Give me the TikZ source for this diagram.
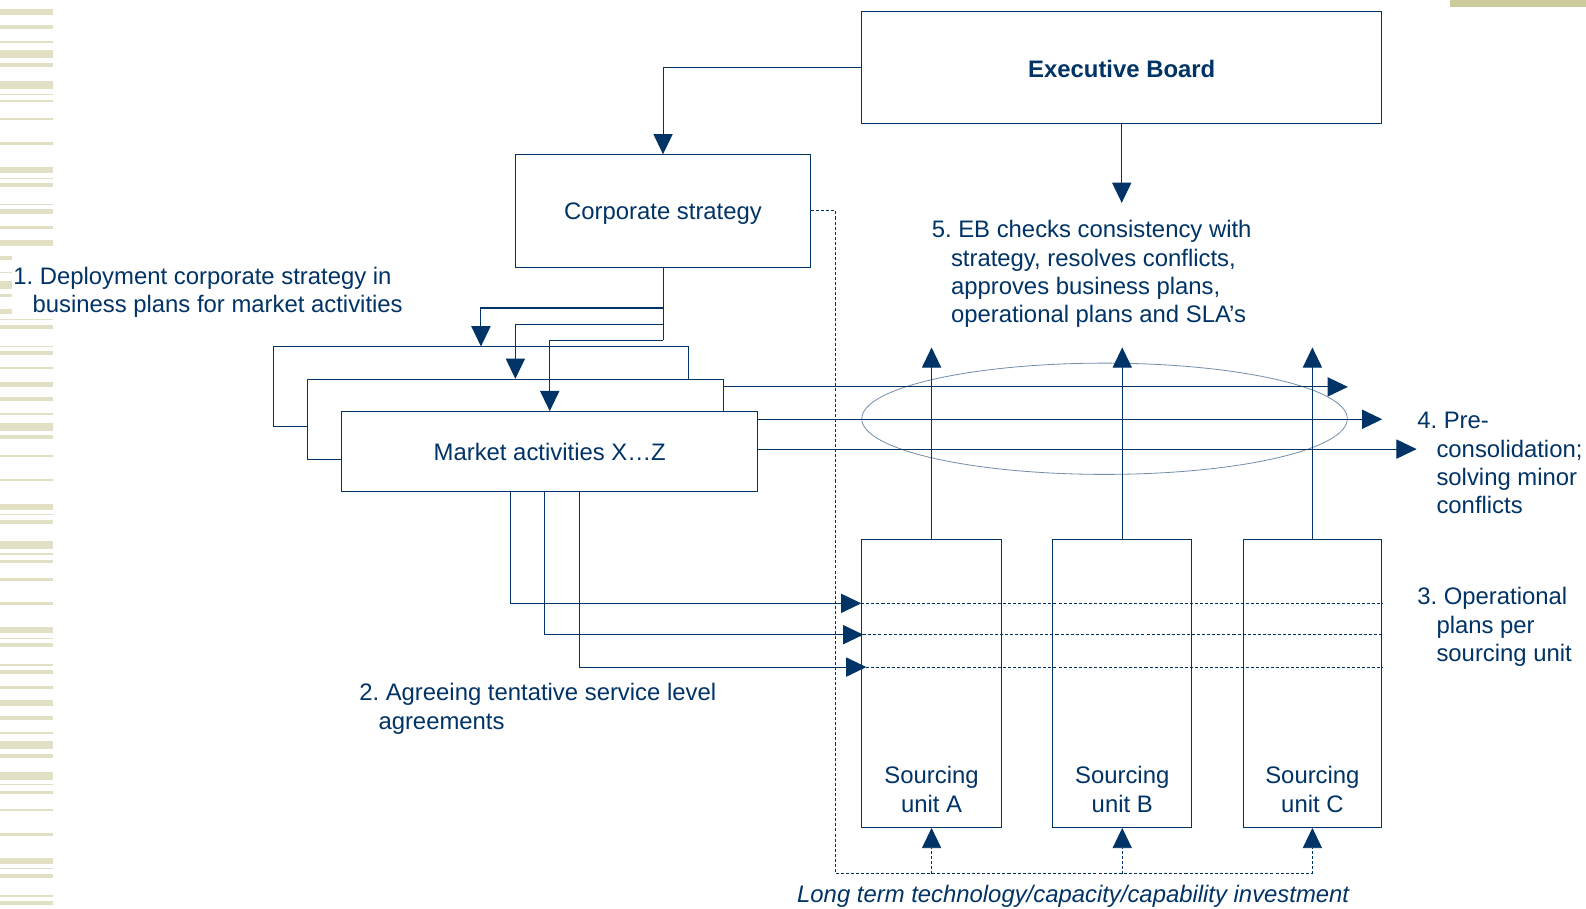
\documentclass[tikz,border=0pt]{standalone}
\usepackage{fontspec}
\setmainfont{Liberation Sans}
\usetikzlibrary{arrows.meta,calc}
\definecolor{dblue}{RGB}{0,51,102}
\definecolor{stripe}{RGB}{226,224,196}
\definecolor{topbar}{RGB}{205,203,155}
\frenchspacing
\begin{document}
\begin{tikzpicture}[x=1pt,y=-1pt,
  every node/.style={font=\fontsize{23.6}{28}\selectfont, text=dblue},
  box/.style={draw=dblue, line width=1.05pt, fill=white, inner sep=0pt},
  ln/.style={draw=dblue, line width=1.05pt},
  arr/.style={ln, -{Triangle[width=19pt,length=20pt]}},
  dl/.style={draw=dblue, line width=0.9pt, dash pattern=on 3pt off 2pt},
  dla/.style={dl, -{Triangle[width=19pt,length=20pt]}},
  lbl/.style={inner sep=0pt, align=left, anchor=base west},
  sulbl/.style={inner sep=0pt, align=center, anchor=base},
]
\useasboundingbox[fill=white] (0,0) rectangle (1568,898);
% decorative stripes
\begin{scope}[scale=0.9887]
\foreach \a/\b in {9/15,25/29,41.3/42.7,50/58,63/67,81/89,93.7/95,99.7/102.3,117.7/120.3,142/144.7,167.3/173.3,178/179.3,182.7/186.7,204/205.3,209.3/214,226/228.7,240/246,318.7/320,324.7/328.7,346/347.3,351/355,366.7/369.3,382/387.3,397/401,413/414.7,422.7/431,435/439,454.7/457.3,478.7/481.3,504/510,514/515.3,520/524,541.3/549.3,553.3/554.7,560/562.7,578/580.7,602/604.7,627.3/633.3,638/639.3,643.3/647.3,664/666,670/674,686/688.7,700/706,716/720,732/734,741.3/748.7,754/758,772/780,784/785.3,790.7/794,808.7/811.3,832.7/836,858/864,868/869.3,874/878,895.3/896.7,901.3/905.3}
  \fill[stripe] (0,\a) rectangle (52.7,\b);
\foreach \a/\b in {256/260,272/273.3,281/289,294/297,309/314}
  \fill[stripe] (0,\a) rectangle (12,\b);
\end{scope}
\fill[topbar] (1434,0) rectangle (1568,6.6);

% ellipse of pre-consolidation
\draw[draw=dblue!55, line width=0.8pt] (1092,414) ellipse [x radius=240, y radius=55];

% main boxes
\node[box, minimum width=514pt, minimum height=111pt, text height=21pt, font=\fontsize{23.6}{28}\selectfont\bfseries] (EB) at (1109,66.5) {Executive Board};
\node[box, minimum width=291pt, minimum height=111pt, text depth=0pt] (CS) at (655.5,208.5) {Corporate strategy};

% dashed investment line (behind)
\coordinate (lt) at (826,864);
\draw[dl] (CS.east) -| (lt) -- (lt -| 1297.5,0);

% market activity boxes with outgoing lines
\node[box, minimum width=411pt, minimum height=79pt] (MAb) at (475.5,382.5) {};
\draw[arr] (MAb.east) -- ++(651,0);
\node[box, minimum width=411pt, minimum height=79pt] (MAm) at (509.5,414.5) {};
\draw[arr] (MAm.east) -- ++(651,0);
\node[box, minimum width=411pt, minimum height=79pt] (MAf) at (543.5,446.5) {Market activities X…Z};
\draw[arr] ([yshift=2.5pt]MAf.east) -- ++(651,0);

% sourcing units
\node[box, minimum width=138pt, minimum height=285pt] (SA) at (921,675.5) {};
\node[box, minimum width=137pt, minimum height=285pt] (SB) at (1109.5,675.5) {};
\node[box, minimum width=137pt, minimum height=285pt] (SC) at (1297.5,675.5) {};
\node[sulbl] at (921,803) {Sourcing\\unit A};
\node[sulbl] at (1109.5,803) {Sourcing\\unit B};
\node[sulbl] at (1297.5,803) {Sourcing\\unit C};

% connectors
\draw[arr] (EB.west) -| (CS.north);
\draw[arr] (EB.south) -- ++(0,78);
\draw[ln] (CS.south) -- ++(0,72);
\draw[arr] ($(CS.south)+(0,40)$) -| (MAb.north);
\draw[arr] ($(CS.south)+(0,56)$) -| (MAm.north);
\draw[arr] ($(CS.south)+(0,72)$) -| (MAf.north);

\draw[arr] (SA.north) -- ++(0,-189);
\draw[arr] (SB.north) -- ++(0,-189);
\draw[arr] (SC.north) -- ++(0,-189);

\draw[dl] ($(SA.north west)+(0,64)$) -- ($(SC.north east)+(0,64)$);
\draw[dl] ($(SA.north west)+(2,95)$) -- ($(SC.north east)+(0,95)$);
\draw[dl] ($(SA.north west)+(5,127)$) -- ($(SC.north east)+(0,127)$);
\draw[arr] ([xshift=-39pt]MAf.south) |- ($(SA.north west)+(0,64)$);
\draw[arr] ([xshift=-5pt]MAf.south) |- ($(SA.north west)+(2,95)$);
\draw[arr] ([xshift=29pt]MAf.south) |- ($(SA.north west)+(5,127)$);

\draw[dla] (lt -| SA.south) -- (SA.south);
\draw[dla] (lt -| SB.south) -- (SB.south);
\draw[dla] (lt -| SC.south) -- (SC.south);

% texts
\node[lbl] (t1) at (13,309) {1. Deployment corporate strategy in\\\hspace*{19pt}business plans for market activities};
\node[lbl] (t2) at (355,721) {2. Agreeing tentative service level\\\hspace*{19pt}agreements};
\node[lbl] (t3) at (1401,654) {3. Operational\\\hspace*{19pt}plans per\\\hspace*{19pt}sourcing unit};
\node[lbl] (t4) at (1401,508) {4. Pre-\\\hspace*{19pt}consolidation;\\\hspace*{19pt}solving minor\\\hspace*{19pt}conflicts};
\node[lbl] (t5) at (921,319) {5. EB checks consistency with\\\hspace*{19pt}strategy, resolves conflicts,\\\hspace*{19pt}approves business plans,\\\hspace*{19pt}operational plans and SLA’s};
\node[font=\fontsize{23.6}{28}\selectfont\itshape] (inv) at (1061,886) {Long term technology/capacity/capability investment};
\end{tikzpicture}
\end{document}
